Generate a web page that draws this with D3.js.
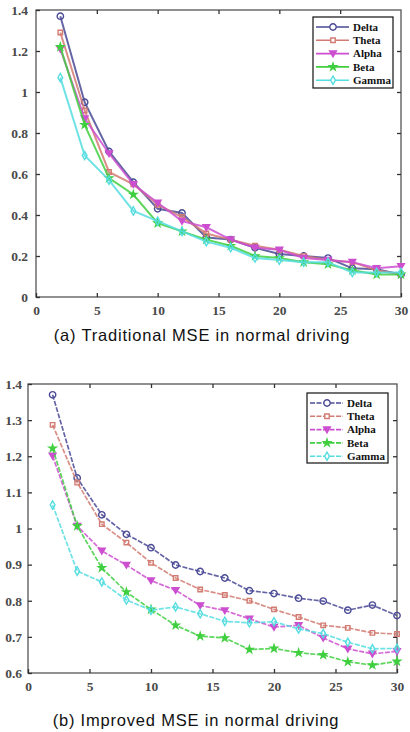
<!DOCTYPE html>
<html>
<head>
<script src="https://cdn.jsdelivr.net/npm/d3@7"></script>
<style>
  body { margin: 0; background: #fff; }
  svg { display: block; }
</style>
</head>
<body>
<div id="chart"></div>
<script>
// x values shared by both panels
var steps = [2, 4, 6, 8, 10, 12, 14, 16, 18, 20, 22, 24, 26, 28, 30];
var bands = ["Delta", "Theta", "Alpha", "Beta", "Gamma"];

// (a) Traditional MSE
var tradDelta = [1.37, 0.95, 0.71, 0.56, 0.43, 0.41, 0.29, 0.28, 0.24, 0.21, 0.20, 0.19, 0.14, 0.135, 0.11];
var tradTheta = [1.29, 0.91, 0.61, 0.55, 0.45, 0.39, 0.31, 0.28, 0.25, 0.23, 0.20, 0.18, 0.17, 0.13, 0.11];
var tradAlpha = [1.21, 0.87, 0.70, 0.55, 0.46, 0.37, 0.34, 0.28, 0.24, 0.23, 0.19, 0.18, 0.17, 0.14, 0.15];
var tradBeta  = [1.22, 0.84, 0.58, 0.50, 0.36, 0.32, 0.28, 0.25, 0.20, 0.19, 0.17, 0.16, 0.13, 0.11, 0.11];
var tradGamma = [1.07, 0.69, 0.57, 0.42, 0.37, 0.32, 0.27, 0.24, 0.19, 0.18, 0.17, 0.17, 0.12, 0.12, 0.12];

// (b) Improved MSE
var impDelta = [1.37, 1.14, 1.038, 0.984, 0.947, 0.899, 0.881, 0.863, 0.828, 0.82, 0.807, 0.799, 0.774, 0.788, 0.759];
var impTheta = [1.287, 1.127, 1.012, 0.961, 0.905, 0.863, 0.831, 0.816, 0.80, 0.776, 0.755, 0.732, 0.725, 0.711, 0.708];
var impAlpha = [1.201, 1.007, 0.938, 0.899, 0.856, 0.829, 0.787, 0.773, 0.75, 0.727, 0.732, 0.697, 0.667, 0.653, 0.66];
var impBeta  = [1.222, 1.007, 0.891, 0.824, 0.776, 0.732, 0.702, 0.697, 0.665, 0.668, 0.656, 0.65, 0.631, 0.622, 0.632];
var impGamma = [1.065, 0.882, 0.852, 0.802, 0.774, 0.783, 0.764, 0.743, 0.739, 0.742, 0.722, 0.709, 0.685, 0.667, 0.668];

var xTicks = [0, 5, 10, 15, 20, 25, 30];
var yTicksA = [0, 0.2, 0.4, 0.6, 0.8, 1, 1.2, 1.4];
var yTicksB = [0.6, 0.7, 0.8, 0.9, 1, 1.1, 1.2, 1.3, 1.4];

var colors = {Delta: "#4a4a96", Theta: "#d27b72", Alpha: "#cc4fd0", Beta: "#3fcf3f", Gamma: "#55dde0"};
var shapes = {Delta: d3.symbolCircle, Theta: d3.symbolSquare, Alpha: "tri", Beta: d3.symbolStar, Gamma: d3.symbolDiamond};
var filled = {Delta: false, Theta: false, Alpha: true, Beta: true, Gamma: false};
var serif = "'Liberation Serif', 'Times New Roman', serif";

var svg = d3.select("#chart").append("svg").attr("width", 410).attr("height", 732);

function markerPath(name) {
  if (shapes[name] === "tri") return "M-3.4,-2.6L3.4,-2.6L0,3.2Z";
  var size = {Delta: 32, Theta: 20, Beta: 15, Gamma: 20}[name];
  return d3.symbol().type(shapes[name]).size(size)();
}

function panel(cfg) {
  var g = svg.append("g");
  var x = d3.scaleLinear().domain([0, 30]).range([cfg.left, cfg.right]);
  var y = d3.scaleLinear().domain(cfg.yDomain).range([cfg.bottom, cfg.top]);

  // frame
  g.append("rect").attr("x", cfg.left).attr("y", cfg.top)
    .attr("width", cfg.right - cfg.left).attr("height", cfg.bottom - cfg.top)
    .attr("fill", "none").attr("stroke", "#555").attr("stroke-width", 1.3);

  g.append("g").attr("transform", "translate(0," + cfg.bottom + ")")
    .call(d3.axisBottom(x).tickValues(xTicks).tickSize(-4).tickPadding(8).tickFormat(d3.format("d")));
  g.append("g").attr("transform", "translate(" + cfg.left + ",0)")
    .call(d3.axisLeft(y).tickValues(cfg.yTicks).tickSize(-4).tickPadding(cfg.ypad).tickFormat(function (d) { return String(d); }));
  g.append("g").attr("transform", "translate(0," + cfg.top + ")")
    .call(d3.axisTop(x).tickValues(xTicks.slice(1, -1)).tickSize(-4).tickFormat(""));
  g.append("g").attr("transform", "translate(" + cfg.right + ",0)")
    .call(d3.axisRight(y).tickValues(cfg.yTicks.slice(1, -1)).tickSize(-4).tickFormat(""));
  g.selectAll(".domain").remove();
  g.selectAll(".tick line").attr("stroke", "#333").attr("stroke-width", 1.3);
  g.selectAll(".tick text").style("font-family", serif).style("font-weight", "bold")
    .style("font-size", "13.5px").style("fill", "#4a4a4a");

  var line = d3.line().x(function (d) { return x(d[0]); }).y(function (d) { return y(d[1]); });

  bands.forEach(function (b) {
    var pts = steps.map(function (s, i) { return [s, cfg.data[b][i]]; });
    g.append("path").datum(pts).attr("d", line).attr("fill", "none")
      .attr("stroke", colors[b]).attr("stroke-width", cfg.dash ? 1.7 : 2)
      .attr("stroke-dasharray", cfg.dash ? "5,1.5" : null).attr("opacity", 0.85);
    g.selectAll(null).data(pts).enter().append("path")
      .attr("transform", function (d) { return "translate(" + x(d[0]) + "," + y(d[1]) + ")"; })
      .attr("d", markerPath(b))
      .attr("fill", filled[b] ? colors[b] : "none")
      .attr("stroke", colors[b]).attr("stroke-width", 1.4);
  });

  // legend
  var lg = g.append("g");
  lg.append("rect").attr("x", cfg.leg.x).attr("y", cfg.leg.y).attr("width", cfg.leg.w).attr("height", cfg.leg.h)
    .attr("fill", "#fff").attr("stroke", "#111").attr("stroke-width", 1.2);
  bands.forEach(function (b, i) {
    var yy = cfg.leg.y + 10 + i * 13.3;
    lg.append("line").attr("x1", cfg.leg.x + 3).attr("x2", cfg.leg.x + 36).attr("y1", yy).attr("y2", yy)
      .attr("stroke", colors[b]).attr("stroke-width", 1.6).attr("stroke-dasharray", cfg.dash ? "5,1.5" : null);
    lg.append("path").attr("transform", "translate(" + (cfg.leg.x + 20) + "," + yy + ")")
      .attr("d", markerPath(b)).attr("fill", filled[b] ? colors[b] : "#fff")
      .attr("stroke", colors[b]).attr("stroke-width", 1.4);
    lg.append("text").attr("x", cfg.leg.x + cfg.leg.tx).attr("y", yy + 3.8)
      .style("font-family", serif).style("font-weight", "bold").style("font-size", "11px").style("fill", "#111")
      .text(b);
  });

  svg.append("text").attr("x", cfg.capX).attr("y", cfg.capY)
    .attr("text-anchor", "middle").style("font-family", "'Liberation Sans', Arial, sans-serif")
    .style("font-size", "16.5px").style("letter-spacing", "0.8px").style("fill", "#111").text(cfg.caption);
}

panel({
  left: 36, right: 401, top: 10, bottom: 297, yDomain: [0, 1.4], yTicks: yTicksA, ypad: 8, dash: false,
  data: {Delta: tradDelta, Theta: tradTheta, Alpha: tradAlpha, Beta: tradBeta, Gamma: tradGamma},
  leg: {x: 313, y: 17, w: 80, h: 71, tx: 40},
  caption: "(a) Traditional MSE in normal driving", capX: 202, capY: 341
});

panel({
  left: 28, right: 397, top: 384, bottom: 673, yDomain: [0.6, 1.4], yTicks: yTicksB, ypad: 6, dash: true,
  data: {Delta: impDelta, Theta: impTheta, Alpha: impAlpha, Beta: impBeta, Gamma: impGamma},
  leg: {x: 307, y: 393, w: 81, h: 70, tx: 40},
  caption: "(b) Improved MSE in normal driving", capX: 196, capY: 726
});
</script>
</body>
</html>
